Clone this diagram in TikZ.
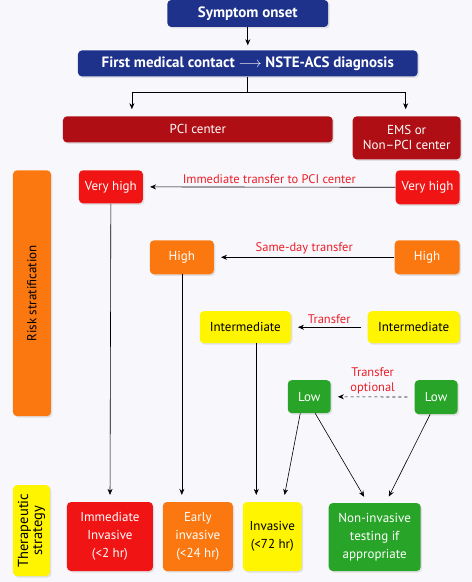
\documentclass[tikz,border=0pt]{standalone}
\usepackage{fontspec}
\setmainfont{PT Sans}
\usetikzlibrary{arrows.meta,shadows}
\definecolor{navy}{RGB}{30,50,140}
\definecolor{dred}{RGB}{175,15,20}
\definecolor{vred}{RGB}{240,20,20}
\definecolor{orng}{RGB}{250,120,15}
\definecolor{yel}{RGB}{255,245,0}
\definecolor{grn}{RGB}{40,165,40}
\definecolor{lred}{RGB}{235,30,40}
\definecolor{bgc}{RGB}{248,248,252}
\begin{document}
\begin{tikzpicture}[x=1pt,y=-1pt,line join=round,>={Stealth[length=6pt,width=5pt]},
	font=\fontsize{13}{15}\selectfont,
	box/.style={rounded corners=4pt,inner sep=0pt,align=center,text=white,
		drop shadow={opacity=0.2,shadow xshift=1.5pt,shadow yshift=-1.5pt}},
	lbl/.style={text=lred,inner sep=3pt,font=\fontsize{12.5}{15}\selectfont},
	con/.style={->,line width=0.6pt,shorten >=7pt}]
	\fill[bgc] (0,0) rectangle (472,582);
	% top of the flow
	\node[box,fill=navy,minimum width=161,minimum height=27,font=\fontsize{15}{17}\selectfont\bfseries] (onset) at (248,13) {Symptom onset};
	\node[box,fill=navy,minimum width=340,minimum height=26,font=\fontsize{15}{17}\selectfont\bfseries] (fmc) at (248,63) {First medical contact $\longrightarrow$ NSTE-ACS diagnosis};
	\node[box,fill=dred,minimum width=270,minimum height=26] (pci) at (198,129) {PCI center};
	\node[box,fill=dred,minimum width=108,minimum height=43] (ems) at (407,137.5) {EMS or\\Non--PCI center};
	\draw[->,line width=0.6pt,shorten >=5pt] (onset) -- (fmc);
	\coordinate (sl) at (132,92);
	\coordinate (sr) at (406,92);
	\draw[line width=0.6pt] (fmc.south) -- (fmc.south|-sl) (sl) -- (sr);
	\draw[con] (sl) -- (sl|-pci.north);
	\draw[con] (sr) -- (sr|-ems.north);
	% side labels
	\node[box,fill=orng,text=black,minimum width=246,minimum height=38,rotate=90] (risk) at (32,293) {Risk stratification};
	\node[box,fill=yel,text=black,minimum width=91,minimum height=37,rotate=90,font=\fontsize{14.5}{14}\selectfont] (ther) at (31.5,530.5) {Therapeutic\\strategy};
	% risk levels
	\node[box,fill=vred,minimum width=64,minimum height=33] (vhl) at (111,186.5) {Very high};
	\node[box,fill=vred,minimum width=64,minimum height=34] (vhr) at (428,187) {Very high};
	\node[box,fill=orng,minimum width=64,minimum height=34] (hl) at (182,257) {High};
	\node[box,fill=orng,minimum width=65,minimum height=34] (hr) at (427.5,257) {High};
	\node[box,fill=yel,text=black,minimum width=91,minimum height=32] (il) at (245.5,327) {Intermediate};
	\node[box,fill=yel,text=black,minimum width=92,minimum height=32] (ir) at (414,327) {Intermediate};
	\node[box,fill=grn,minimum width=43,minimum height=33] (ll) at (309.5,396.5) {Low};
	\node[box,fill=grn,minimum width=43,minimum height=34] (lr) at (436.5,397) {Low};
	% strategies
	\node[box,fill=vred,minimum width=86,minimum height=69,font=\fontsize{13}{18}\selectfont] (ii) at (110,536.5) {Immediate\\Invasive\\(<2 hr)};
	\node[box,fill=orng,minimum width=70,minimum height=69,font=\fontsize{13}{18}\selectfont] (ei) at (198,536.5) {Early\\invasive\\(<24 hr)};
	\node[box,fill=yel,text=black,minimum width=59,minimum height=69,font=\fontsize{13}{18}\selectfont] (inv) at (272.5,536.5) {Invasive\\(<72 hr)};
	\node[box,fill=grn,minimum width=92,minimum height=68,font=\fontsize{13}{18}\selectfont] (ni) at (375,537) {Non-invasive\\testing if\\appropriate};
	% transfers
	\draw[con] (vhr) -- (vhl) node[lbl,midway,above]{Immediate transfer to PCI center};
	\draw[con] (hr) -- (hl) node[lbl,midway,above]{Same-day transfer};
	\draw[con,shorten <=6pt] (ir) -- (il) node[lbl,midway,above]{Transfer};
	\draw[con,dashed,shorten <=7pt] (lr) -- (ll) node[lbl,midway,above,align=center]{Transfer\\optional};
	% to strategy
	\coordinate (iltop) at ([xshift=11pt]il.south);
	\draw[con] (vhl) -- (ii);
	\draw[con] (hl.south) -- (hl.south|-ei.north);
	\draw[con] (iltop) -- (iltop|-inv.north);
	\draw[con] ([xshift=-9pt]ll.south) -- ([xshift=11pt]inv.north);
	\draw[con] ([xshift=6pt]ll.south) -- ([xshift=-7pt]ni.north);
	\draw[con] ([xshift=-6pt]lr.south) -- ([xshift=11pt]ni.north);
\end{tikzpicture}
\end{document}
